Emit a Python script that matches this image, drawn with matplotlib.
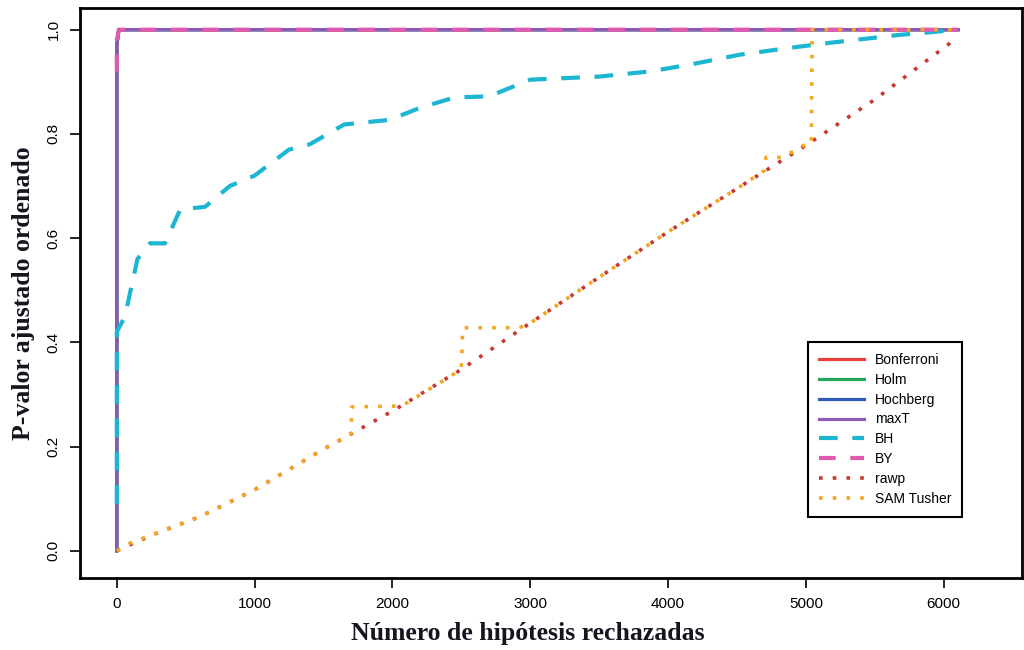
import matplotlib
matplotlib.use("Agg")
import matplotlib.pyplot as plt

# datos: p-valores ajustados ordenados
fwer_x = [0, 0, 15, 6103]
fwer_y = [0.0, 0.97, 1.0, 1.0]

bh_x = [0, 0, 60, 100, 150, 240, 350, 460, 640, 820, 1000, 1250, 1400, 1650,
        1980, 2200, 2450, 2700, 3000, 3500, 3870, 4160, 4520, 4880, 5180,
        5680, 5900, 6103]
bh_y = [0.09, 0.42, 0.45, 0.50, 0.56, 0.59, 0.59, 0.655, 0.66, 0.70, 0.72,
        0.77, 0.78, 0.818, 0.827, 0.85, 0.87, 0.872, 0.904, 0.91, 0.92, 0.933,
        0.952, 0.965, 0.975, 0.99, 0.995, 1.0]

by_x = [0, 0, 15, 6103]
by_y = [0.92, 0.98, 1.0, 1.0]

rawp_x = [0, 100, 300, 600, 1000, 1500, 2000, 2500, 3000, 3500, 4000, 4500,
          5000, 5500, 6050]
rawp_y = [0.0, 0.012, 0.035, 0.065, 0.117, 0.195, 0.268, 0.348, 0.437,
          0.525, 0.612, 0.695, 0.778, 0.866, 0.975]

sam_x = [0, 100, 300, 600, 1000, 1500, 1700, 1705, 2070, 2500, 2510, 2920,
         3000, 3500, 4000, 4500, 4700, 4710, 4830, 5000, 5040, 5045, 6103]
sam_y = [0.0, 0.015, 0.035, 0.065, 0.117, 0.195, 0.225, 0.276, 0.278, 0.348,
         0.428, 0.428, 0.437, 0.525, 0.612, 0.695, 0.73, 0.755, 0.755, 0.78,
         0.78, 1.0, 1.0]

fig = plt.figure(figsize=(10.24, 6.5), dpi=100)
ax = fig.add_axes([0.078, 0.111, 0.92, 0.877])

sans = ['Liberation Sans', 'DejaVu Sans']
serif = ['Liberation Serif', 'DejaVu Serif']

# lineas FWER (se superponen todas)
ax.plot(fwer_x, fwer_y, color='#E8403A', lw=2.3, label='Bonferroni')
ax.plot(fwer_x, fwer_y, color='#22A85A', lw=2.3, label='Holm')
ax.plot(fwer_x, fwer_y, color='#2E5CB8', lw=2.3, label='Hochberg')
ax.plot(fwer_x, fwer_y, color='#8C5BB8', lw=2.3, label='maxT')
ax.plot(bh_x, bh_y, color='#1DB6D2', lw=3, ls=(0, (4.5, 3.5)), label='BH')
ax.plot(by_x, by_y, color='#E05AAE', lw=3, ls=(0, (4, 3.5)), label='BY')
ax.plot(rawp_x, rawp_y, color='#C83A2E', lw=2.6, ls=(0, (1, 2.8)), label='rawp')
ax.plot(sam_x, sam_y, color='#F4A623', lw=2.6, ls=(0, (1, 2.8)), label='SAM Tusher')

ax.set_xlim(-268, 6568)
ax.set_ylim(-0.052, 1.042)
ax.set_xticks([0, 1000, 2000, 3000, 4000, 5000, 6000])
ax.set_yticks([0.0, 0.2, 0.4, 0.6, 0.8, 1.0])
ax.set_yticklabels(['0.0', '0.2', '0.4', '0.6', '0.8', '1.0'], rotation=90, va='center')
ax.tick_params(direction='out', length=7, width=1.2, labelsize=11, pad=7)
for lab in ax.get_xticklabels() + ax.get_yticklabels():
    lab.set_family(sans)
for s in ax.spines.values():
    s.set_linewidth(2)

ax.set_xlabel('Número de hipótesis rechazadas', family=serif, fontweight='bold',
              fontsize=18.5, color='#151520')
ax.xaxis.set_label_coords(0.476, -0.077)
ax.set_ylabel('P-valor ajustado ordenado', family=serif, fontweight='bold',
              fontsize=18.5, color='#151520', labelpad=8)

leg = ax.legend(loc='upper left', bbox_to_anchor=(0.773, 0.414), borderaxespad=0,
                fancybox=False, edgecolor='black', framealpha=1,
                prop={'family': sans, 'size': 10},
                handlelength=3.2, labelspacing=0.42, borderpad=0.8)
leg.get_frame().set_linewidth(1.5)

fig.savefig('out.png', dpi=100)
